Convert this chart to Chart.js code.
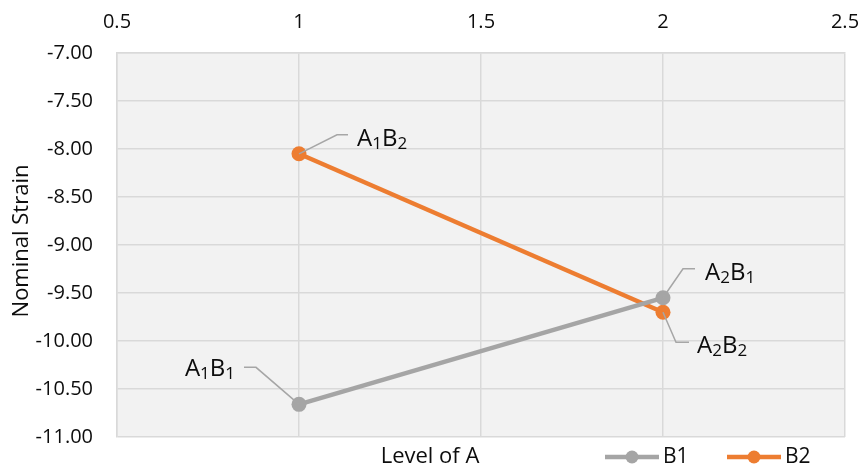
<!DOCTYPE html>
<html>
<head>
<meta charset="utf-8">
<script src="https://cdn.jsdelivr.net/npm/chart.js@4/dist/chart.umd.min.js"></script>
<style>
  html, body { margin: 0; padding: 0; background: #ffffff; }
  canvas { display: block; }
</style>
</head>
<body>
<canvas id="chart" width="864" height="471"></canvas>
<script>
// Levels of factor A (x) and nominal strain for each level of factor B
const levelsA = [1, 2];
const seriesNames = ['B1', 'B2'];
const strainB1 = [-10.66, -9.55];
const strainB2 = [-8.05, -9.70];
const pointNames = [['A1B1', 'A2B1'], ['A1B2', 'A2B2']];

// Axis ticks
const xTickValues = [0.5, 1, 1.5, 2, 2.5];
const yTickValues = [-11, -10.5, -10, -9.5, -9, -8.5, -8, -7.5, -7];

const xTitle = 'Level of A';
const yTitle = 'Nominal Strain';

const COLORS = ['#A5A5A5', '#ED7D31'];
const TEXT = '#0d0d0d';
const FONT = '"Open Sans", "DejaVu Sans", sans-serif';

// Placement of each point label: leader polyline and text anchor, in px from the point
const labelLayout = [
  [ { leader: [[0, 0], [-43, -37], [-55, -37]], text: [-64, -28], align: 'right' },
    { leader: [[0, 0], [20, -29], [32, -29]], text: [42, -18], align: 'left' } ],
  [ { leader: [[0, 0], [38, -19], [49, -19]], text: [58, -8], align: 'left' },
    { leader: [[0, 0], [13, 30], [26, 30]], text: [34, 41], align: 'left' } ]
];

const seriesValues = [strainB1, strainB2];
const datasets = seriesNames.map((name, i) => ({
  label: name,
  data: levelsA.map((a, j) => ({ x: a, y: seriesValues[i][j] })),
  showLine: true,
  borderColor: COLORS[i],
  backgroundColor: COLORS[i],
  borderWidth: 4.5,
  pointRadius: 7.5,
  pointHoverRadius: 7.5,
  pointBorderWidth: 0,
  pointBackgroundColor: COLORS[i]
}));

// Draws "A1B2"-style names with the digits as subscripts
function drawSubscripted(ctx, str, x, y, align) {
  const big = '24px ' + FONT, small = '17px ' + FONT;
  const parts = str.split('').map(ch => ({ ch, sub: /\d/.test(ch) }));
  let total = 0;
  parts.forEach(p => { ctx.font = p.sub ? small : big; p.w = ctx.measureText(p.ch).width; total += p.w; });
  let cx = align === 'right' ? x - total : x;
  ctx.textAlign = 'left';
  ctx.textBaseline = 'alphabetic';
  parts.forEach(p => {
    ctx.font = p.sub ? small : big;
    ctx.fillText(p.ch, cx, p.sub ? y + 3 : y);
    cx += p.w;
  });
}

const plotBackground = {
  id: 'plotBackground',
  beforeDraw(chart) {
    const { ctx, chartArea: a } = chart;
    ctx.save();
    ctx.fillStyle = '#F2F2F2';
    ctx.fillRect(a.left, a.top, a.right - a.left, a.bottom - a.top);
    ctx.restore();
  }
};

const pointLabels = {
  id: 'pointLabels',
  afterDatasetsDraw(chart) {
    const ctx = chart.ctx;
    ctx.save();
    chart.data.datasets.forEach((ds, i) => {
      chart.getDatasetMeta(i).data.forEach((pt, j) => {
        const lay = labelLayout[i][j];
        ctx.beginPath();
        lay.leader.forEach(([dx, dy], k) => {
          if (k === 0) ctx.moveTo(pt.x + dx, pt.y + dy); else ctx.lineTo(pt.x + dx, pt.y + dy);
        });
        ctx.strokeStyle = '#A6A6A6';
        ctx.lineWidth = 1.5;
        ctx.stroke();
        ctx.fillStyle = TEXT;
        drawSubscripted(ctx, pointNames[i][j], pt.x + lay.text[0], pt.y + lay.text[1], lay.align);
      });
    });
    ctx.restore();
  }
};

const titlesAndLegend = {
  id: 'titlesAndLegend',
  afterDraw(chart) {
    const ctx = chart.ctx;
    ctx.save();
    ctx.fillStyle = TEXT;
    ctx.font = '22px ' + FONT;
    ctx.textAlign = 'center';
    ctx.textBaseline = 'middle';
    ctx.fillText(xTitle, 430, 457);
    ctx.save();
    ctx.translate(22, 241);
    ctx.rotate(-Math.PI / 2);
    ctx.fillText(yTitle, 0, 0);
    ctx.restore();

    // legend entries
    const starts = [605, 727];
    chart.data.datasets.forEach((ds, i) => {
      const x0 = starts[i], y = 457;
      ctx.strokeStyle = ds.borderColor;
      ctx.lineWidth = 4.5;
      ctx.beginPath();
      ctx.moveTo(x0, y);
      ctx.lineTo(x0 + 54, y);
      ctx.stroke();
      ctx.fillStyle = ds.backgroundColor;
      ctx.beginPath();
      ctx.arc(x0 + 27, y, 6.5, 0, Math.PI * 2);
      ctx.fill();
      ctx.fillStyle = TEXT;
      ctx.font = '21px ' + FONT;
      ctx.textAlign = 'left';
      ctx.textBaseline = 'middle';
      ctx.fillText(ds.label, x0 + 58, y);
    });
    ctx.restore();
  }
};

Chart.defaults.font.family = FONT;
Chart.defaults.color = TEXT;

new Chart(document.getElementById('chart'), {
  type: 'scatter',
  data: { datasets },
  options: {
    responsive: false,
    animation: false,
    devicePixelRatio: 1,
    layout: { padding: { left: 0, top: 0, right: 19, bottom: 34 } },
    plugins: { legend: { display: false }, tooltip: { enabled: false } },
    scales: {
      x: {
        type: 'linear',
        position: 'top',
        min: 0.5,
        max: 2.5,
        afterBuildTicks(scale) { scale.ticks = xTickValues.map(v => ({ value: v })); },
        afterFit(scale) {
          scale.height = 53;
          scale.paddingLeft = 0;
          scale.paddingRight = 0;
        },
        ticks: {
          font: { size: 20 },
          color: TEXT,
          padding: 19,
          callback: v => String(v)
        },
        grid: { color: '#D9D9D9', lineWidth: 1.5, drawTicks: false },
        border: { color: '#D9D9D9', width: 1.5 }
      },
      y: {
        type: 'linear',
        min: -11,
        max: -7,
        afterBuildTicks(scale) { scale.ticks = yTickValues.map(v => ({ value: v })); },
        afterFit(scale) {
          scale.width = 117;
          scale.paddingTop = 0;
          scale.paddingBottom = 0;
        },
        ticks: {
          font: { size: 20 },
          color: TEXT,
          padding: 24,
          callback: v => Number(v).toFixed(2)
        },
        grid: { color: '#D9D9D9', lineWidth: 1.5, drawTicks: false },
        border: { color: '#D9D9D9', width: 1.5 }
      }
    }
  },
  plugins: [plotBackground, pointLabels, titlesAndLegend]
});
</script>
</body>
</html>
